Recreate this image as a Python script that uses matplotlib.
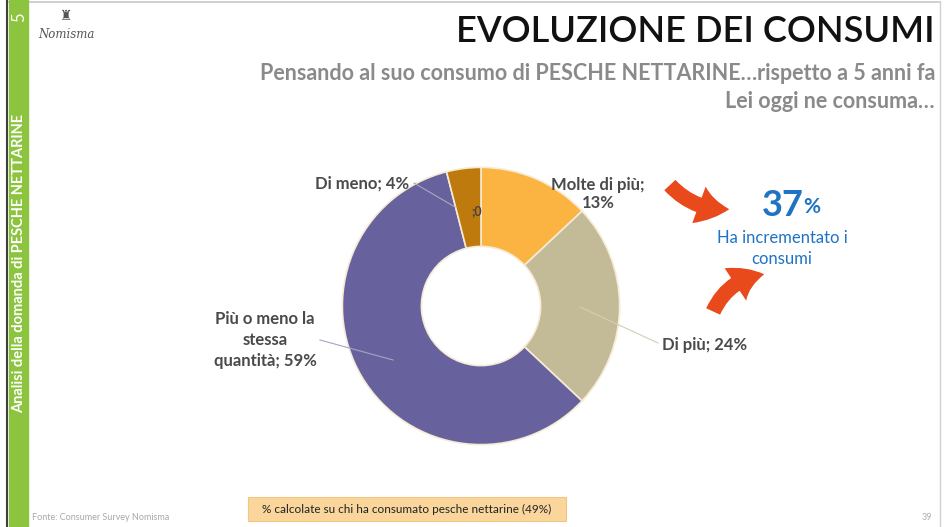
import matplotlib
matplotlib.use("Agg")
import matplotlib.pyplot as plt
from matplotlib.patches import Rectangle, FancyArrowPatch

plt.rcParams['font.family'] = ['Lato', 'DejaVu Sans']

# risposte sul consumo di pesche nettarine rispetto a 5 anni fa
categories = ['Molte di più', 'Di più', 'Più o meno la\nstessa\nquantità', 'Di meno']
values = [13, 24, 59, 4]
colors = ['#FBB441', '#C3BB98', '#67629E', '#BF7A0E']
increase = values[0] + values[1]

W, H = 949, 527
fig = plt.figure(figsize=(W / 100, H / 100), dpi=100)
fig.patch.set_facecolor('white')

# donut
cx, cy, r = 481, 306, 140
pie_ax = fig.add_axes([(cx - r) / W, (H - cy - r) / H, 2 * r / W, 2 * r / H])
pie_ax.pie(values, colors=colors, startangle=90, counterclock=False, radius=1,
           wedgeprops=dict(width=0.57, edgecolor='#F6EBD5', linewidth=1.2))
pie_ax.set_xlim(-1.01, 1.01)
pie_ax.set_ylim(-1.01, 1.01)
pie_ax.set_aspect('equal')
pie_ax.axis('off')
pie_ax.set_zorder(1)

# pixel-coordinate canvas on top for labels and decorations
bg = fig.add_axes([0, 0, 1, 1])
bg.set_xlim(0, W)
bg.set_ylim(H, 0)
bg.axis('off')
bg.set_zorder(2)

# slide frame
bg.plot([7, 940], [2, 2], color='#C8C8C8', lw=1.2)
bg.plot([940, 940], [2, 527], color='#D0D0D0', lw=1.0)
bg.plot([7, 7], [0, 527], color='#404040', lw=1.5)
bg.add_patch(Rectangle((9, 0), 19, H, color='#8CC43F', zorder=2))
bg.text(19, 17, '5', color='white', fontsize=12, rotation=90,
        ha='center', va='center', zorder=3)
bg.text(19, 263, 'Analisi della domanda di PESCHE NETTARINE', color='white',
        fontsize=10.5, fontweight='bold', rotation=90, ha='center', va='center', zorder=3)

# logo
bg.text(66, 16, '♜', color='#555555', fontsize=10, ha='center', va='center',
        family=['DejaVu Sans'])
bg.text(66, 34, 'Nomisma', color='#555555', fontsize=8.5, style='italic',
        family=['DejaVu Serif'], ha='center', va='center')

# titles
bg.text(935, 31, 'EVOLUZIONE DEI CONSUMI', fontsize=26, color='#111111',
        fontweight='semibold', ha='right', va='center')
bg.text(935, 74, 'Pensando al suo consumo di PESCHE NETTARINE…rispetto a 5 anni fa',
        fontsize=15.5, color='#8A8A8A', fontweight='bold', ha='right', va='center')
bg.text(935, 101, 'Lei oggi ne consuma…', fontsize=15.5, color='#8A8A8A',
        fontweight='bold', ha='right', va='center')

# data labels
lab_kw = dict(fontsize=12, color='#4A4A4A', fontweight='bold', ha='center', va='center')
bg.text(598, 194, f'{categories[0]};\n{values[0]}%', **lab_kw)
bg.text(705, 345, f'{categories[1]}; {values[1]}%', **lab_kw)
bg.text(265, 340, f'{categories[2]}; {values[2]}%', linespacing=1.4, **lab_kw)
bg.text(362, 184, f'{categories[3]}; {values[3]}%', **lab_kw)
bg.text(477, 211, ';0', fontsize=9, color='#444444', fontweight='bold',
        ha='center', va='center', zorder=5)

# leader lines
line_kw = dict(lw=0.8, zorder=5)
bg.plot([414, 455], [183, 207], color='#A8A8B8', **line_kw)
bg.plot([320, 393], [340, 360], color='#A8A4C4', **line_kw)
bg.plot([658, 580], [343, 307], color='#D4CEB6', **line_kw)

# highlight of the increase
bg.text(804, 206, f'{increase}', fontsize=26, fontweight='bold', color='#1F73C4',
        ha='right', va='center')
bg.text(803, 207, '%', fontsize=15, fontweight='bold', color='#1F73C4',
        ha='left', va='center')
bg.text(782, 238, 'Ha incrementato i', fontsize=12, color='#1F73C4',
        ha='center', va='center')
bg.text(782, 259, 'consumi', fontsize=12, color='#1F73C4', ha='center', va='center')

arrow_kw = dict(arrowstyle='simple,head_width=1.4,head_length=1.1,tail_width=0.55',
                color='#E84A1C', mutation_scale=20, lw=0, zorder=4)
bg.add_patch(FancyArrowPatch((668, 183), (732, 209),
                             connectionstyle='arc3,rad=0.25', **arrow_kw))
bg.add_patch(FancyArrowPatch((712, 314), (767, 274),
                             connectionstyle='arc3,rad=-0.3', **arrow_kw))

# footer
bg.add_patch(Rectangle((248, 497), 318, 24, facecolor='#FAD69C', edgecolor='#F2C680',
                       lw=0.8, zorder=2))
bg.text(407, 509, '% calcolate su chi ha consumato pesche nettarine (49%)',
        fontsize=8.5, color='#222222', ha='center', va='center', zorder=3)
bg.text(32, 517, 'Fonte: Consumer Survey Nomisma', fontsize=6.5, color='#A8A8A8',
        ha='left', va='center')
bg.text(927, 517, '39', fontsize=6.5, color='#B0B0B0', ha='center', va='center')

fig.savefig('out.png', dpi=100, facecolor='white')
